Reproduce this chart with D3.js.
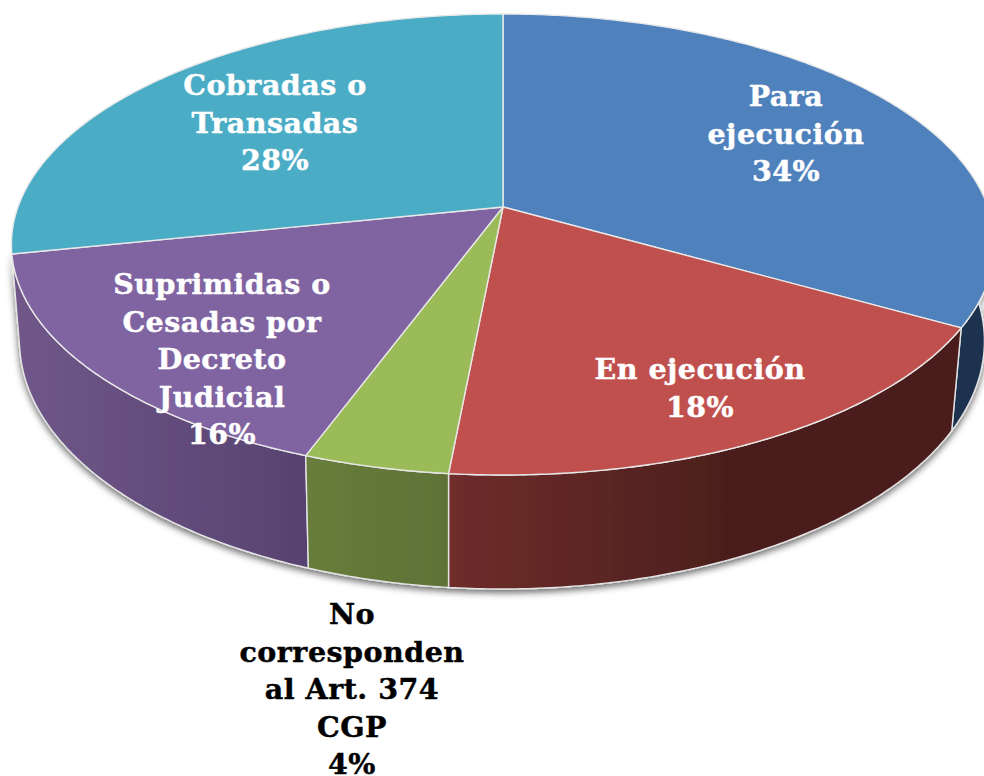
<!DOCTYPE html>
<html><head><meta charset="utf-8">
<script src="https://cdnjs.cloudflare.com/ajax/libs/d3/7.8.5/d3.min.js"></script>
<style>html,body{margin:0;padding:0;background:#fff;overflow:hidden}svg{display:block}text{font-family:"DejaVu Serif",serif;font-weight:700;text-anchor:middle;letter-spacing:.5px;stroke-width:.45px}</style>
</head><body><svg width="984" height="776"></svg>
<script>
const categories = [["Para","ejecución"],["En ejecución"],["No","corresponden","al Art. 374","CGP"],["Suprimidas o","Cesadas por","Decreto","Judicial"],["Cobradas o","Transadas"]];
const sliceValues = [33.25,18.25,4.1,16.15,28.25];
const percentLabels = ["34%","18%","4%","16%","28%"];
const topColors = ["#4f81bd","#c0504d","#9bbb59","#8064a2","#4bacc6"];
const sideFrom = ["#1b3350","#6f2d2b","#677d3b","#6f5789","#2d6c7c"];
const sideTo = ["#1b3350","#4c1f1d","#5f7236","#574270","#2d6c7c"];
const labelColors = ["#fff","#fff","#000","#fff","#fff"];
const labelX = [786,700,352,222,275];
const labelY = [106,379,624,294,95];

const svg = d3.select("svg");
const defs = svg.append("defs");
const f = defs.append("filter").attr("id","sh").attr("x","-5%").attr("y","-5%").attr("width","110%").attr("height","115%");
f.append("feDropShadow").attr("dx",0).attr("dy",3).attr("stdDeviation",3.5).attr("flood-color","#000").attr("flood-opacity",.6);

const k = 0.1627;
const topPlane = {x:d3.scaleLinear().domain([0,1]).range([503,988]), y:d3.scaleLinear().domain([0,1]).range([207,431.4])};
const botPlane = {x:d3.scaleLinear().domain([0,1]).range([502,978]), y:d3.scaleLinear().domain([0,1]).range([300.7,542.1])};
function project(pl,t){const u=Math.sin(t),v=-Math.cos(t),d=1-k*v;return [pl.x(u/d),pl.y(v/d)];}
function arcPts(pl,a,b){const n=Math.max(2,Math.ceil((b-a)/0.01));return d3.range(n+1).map(i=>project(pl,a+(b-a)*i/n));}
const line = d3.line();
const arcs = d3.pie().sort(null)(sliceValues);

// side walls: only the front half of the drum can be seen
const g = svg.append("g").attr("filter","url(#sh)");
arcs.forEach((d,i)=>{
  const lg=defs.append("linearGradient").attr("id","sg"+i).attr("gradientUnits","userSpaceOnUse");
  const xs=arcPts(botPlane,Math.max(d.startAngle,Math.PI/2),d.endAngle).map(p=>p[0]);
  lg.attr("x1",d3.min(xs)).attr("x2",d3.max(xs)).attr("y1",0).attr("y2",0);
  lg.append("stop").attr("offset",0).attr("stop-color",sideFrom[i]);
  lg.append("stop").attr("offset",i==1?.55:1).attr("stop-color",sideTo[i]);
});
[0,3,1,2].forEach(i=>{
  const d=arcs[i], a=Math.max(d.startAngle,Math.PI/2);
  const pts=arcPts(topPlane,a,d.endAngle).concat(arcPts(botPlane,a,d.endAngle).reverse());
  g.append("path").attr("d",line(pts)+"Z").attr("fill",`url(#sg${i})`).attr("stroke","#e4e4e4").attr("stroke-width",1.4);
});
// top faces
arcs.forEach((d,i)=>{
  const c=[topPlane.x(0),topPlane.y(0)];
  svg.append("path").attr("d",line([c].concat(arcPts(topPlane,d.startAngle,d.endAngle)))+"Z")
    .attr("fill",topColors[i]).attr("stroke","#e8e8e8").attr("stroke-width",1.4).attr("stroke-linejoin","round");
});
// labels
categories.forEach((lines,i)=>{
  lines.concat(percentLabels[i]).forEach((t,j)=>{
    svg.append("text").attr("x",labelX[i]).attr("y",labelY[i]+j*37.5).attr("fill",labelColors[i]).attr("stroke",labelColors[i]).attr("font-size",28.5).text(t);
  });
});
</script></body></html>
